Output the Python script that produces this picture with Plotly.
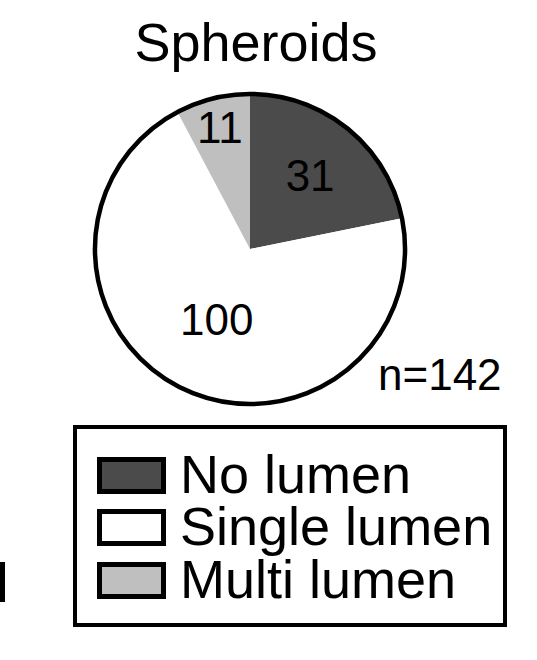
import plotly.graph_objects as go

W, H = 537, 660

labels = ["No lumen", "Single lumen", "Multi lumen"]
values = [31, 100, 11]
colors = ["#4b4b4b", "#ffffff", "#bfbfbf"]
title = "Spheroids"

FONT = "Liberation Sans, Arial, sans-serif"


def px(x):
    return x / W


def py(y):
    return 1 - y / H


# pie sits in a square box, centre ~ (250, 249), radius ~155 px
dom_x = [px(95), px(405)]
dom_y = [py(404), py(94)]

fig = go.Figure()
fig.add_trace(go.Pie(
    labels=labels, values=values, sort=False, direction="clockwise", rotation=0,
    marker=dict(colors=colors, line=dict(width=0)),
    textinfo="value", textposition="inside", insidetextorientation="horizontal",
    textfont=dict(family=FONT, size=44, color="black"),
    domain=dict(x=dom_x, y=dom_y), showlegend=False, hoverinfo="label+value",
))
# outer outline only (no radial edges between slices)
fig.add_trace(go.Pie(
    values=[1], marker=dict(colors=["rgba(0,0,0,0)"], line=dict(color="black", width=4.5)),
    textinfo="none", hoverinfo="skip", showlegend=False,
    domain=dict(x=dom_x, y=dom_y),
))

annotations = [
    dict(text="n=%d" % sum(values), x=px(376), y=py(374), xanchor="left", yanchor="middle",
         font=dict(family=FONT, size=44, color="black")),
]
shapes = [
    # legend frame
    dict(type="rect", x0=px(75), x1=px(505), y0=py(427), y1=py(625),
         line=dict(color="black", width=4), fillcolor="white", layer="below"),
    # cropped mark at the left edge
    dict(type="rect", x0=px(0), x1=px(5), y0=py(562), y1=py(602),
         line=dict(width=0), fillcolor="black"),
]

row_y = [475.5, 527.5, 580.5]
for lab, col, ry in zip(labels, colors, row_y):
    shapes.append(dict(type="rect", x0=px(99.5), x1=px(163.5), y0=py(ry - 16), y1=py(ry + 16),
                       line=dict(color="black", width=5), fillcolor=col))
    annotations.append(dict(text=lab, x=px(178), y=py(ry - 2), xanchor="left", yanchor="middle",
                            font=dict(family=FONT, size=54, color="black")))

for a in annotations:
    a.update(xref="paper", yref="paper", showarrow=False)
for s in shapes:
    s.update(xref="paper", yref="paper")

fig.update_layout(
    width=W, height=H, margin=dict(l=0, r=0, t=0, b=0),
    paper_bgcolor="white", plot_bgcolor="white",
    title=dict(text=title, x=px(256), y=py(42), xanchor="center", yanchor="middle",
               font=dict(family=FONT, size=54, color="black")),
    annotations=annotations, shapes=shapes,
    uniformtext=dict(minsize=44, mode="show"),
)

# the page body has an 8px default margin; drop it so the figure fills the window
fig.write_html("out.html", config={"displayModeBar": False},
               post_script="document.body.style.margin='0';")
